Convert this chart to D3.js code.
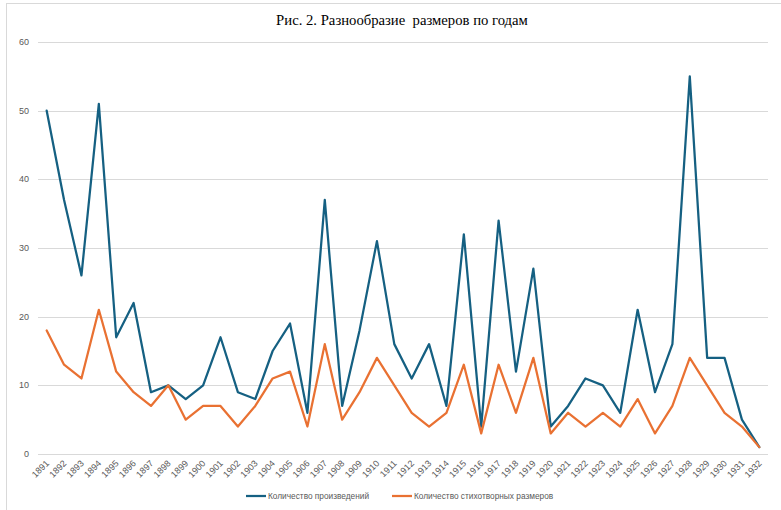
<!DOCTYPE html>
<html>
<head>
<meta charset="utf-8">
<script src="https://cdn.jsdelivr.net/npm/d3@7"></script>
<style>
  html, body { margin: 0; padding: 0; background: #fff; }
  svg { display: block; }
  .title { font-family: "Liberation Serif", "Times New Roman", serif; white-space: pre; }
</style>
</head>
<body>
<svg id="chart" width="781" height="510"></svg>
<script>
const years = [1891,1892,1893,1894,1895,1896,1897,1898,1899,1900,1901,1902,1903,1904,1905,1906,1907,1908,1909,1910,1911,1912,1913,1914,1915,1916,1917,1918,1919,1920,1921,1922,1923,1924,1925,1926,1927,1928,1929,1930,1931,1932];
const works = [50,37,26,51,17,22,9,10,8,10,17,9,8,15,19,6,37,7,18,31,16,11,16,7,32,4,34,12,27,4,7,11,10,6,21,9,16,55,14,14,5,1];
const meters = [18,13,11,21,12,9,7,10,5,7,7,4,7,11,12,4,16,5,9,14,10,6,4,6,13,3,13,6,14,3,6,4,6,4,8,3,7,14,10,6,4,1];
const yTicks = [0,10,20,30,40,50,60];
const seriesNames = ["Количество произведений", "Количество стихотворных размеров"];
const title = "Рис. 2. Разнообразие  размеров по годам";

(function () {
const svg = d3.select("#chart");
const colors = ["#156082", "#E97132"];

// border
svg.append("line").attr("x1", 6).attr("x2", 781).attr("y1", 3.5).attr("y2", 3.5).attr("stroke", "#d9d9d9");
svg.append("line").attr("x1", 6.5).attr("x2", 6.5).attr("y1", 3).attr("y2", 510).attr("stroke", "#d9d9d9");

const pLeft = 38, pRight = 768, pTop = 42, pBottom = 454;
const x = d3.scalePoint().domain(years).range([pLeft, pRight]).padding(0.5);
const y = d3.scaleLinear().domain([0, 60]).range([pBottom, pTop]);

// gridlines
svg.append("g").selectAll("line").data(yTicks).join("line")
  .attr("x1", pLeft).attr("x2", pRight)
  .attr("y1", d => Math.round(y(d)) + 0.5).attr("y2", d => Math.round(y(d)) + 0.5)
  .attr("stroke", "#d9d9d9").attr("stroke-width", 1);

// y labels
svg.append("g").selectAll("text").data(yTicks).join("text")
  .attr("x", 29).attr("y", d => y(d) + 3)
  .attr("text-anchor", "end")
  .attr("font-family", "'Liberation Sans', Arial, sans-serif")
  .attr("font-size", 9).attr("fill", "#595959")
  .text(d => d);

// x labels
svg.append("g").selectAll("text").data(years).join("text")
  .attr("transform", d => `translate(${x(d) + 3},${464}) rotate(-45)`)
  .attr("text-anchor", "end")
  .attr("font-family", "'Liberation Sans', Arial, sans-serif")
  .attr("font-size", 9).attr("fill", "#595959")
  .text(d => d);

// lines
const line = d3.line().x((d, i) => x(years[i])).y(d => y(d)).curve(d3.curveLinear);
[works, meters].forEach((s, k) => {
  svg.append("path").datum(s)
    .attr("d", line)
    .attr("fill", "none")
    .attr("stroke", colors[k])
    .attr("stroke-width", 2.25)
    .attr("stroke-linejoin", "round")
    .attr("stroke-linecap", "round");
});

// title
svg.append("text")
  .attr("class", "title")
  .attr("x", 402).attr("y", 25)
  .attr("text-anchor", "middle")
  .attr("font-size", 14.7).attr("fill", "#000")
  .text(title);

// legend
const legendX = [246, 392];
seriesNames.forEach((n, k) => {
  const g = svg.append("g");
  g.append("line").attr("x1", legendX[k]).attr("x2", legendX[k] + 20)
    .attr("y1", 496).attr("y2", 496)
    .attr("stroke", colors[k]).attr("stroke-width", 2.25);
  g.append("text").attr("x", legendX[k] + 22).attr("y", 499)
    .attr("font-family", "'Liberation Sans', Arial, sans-serif")
    .attr("font-size", 8.3).attr("fill", "#595959")
    .text(n);
});
})();
</script>
</body>
</html>
